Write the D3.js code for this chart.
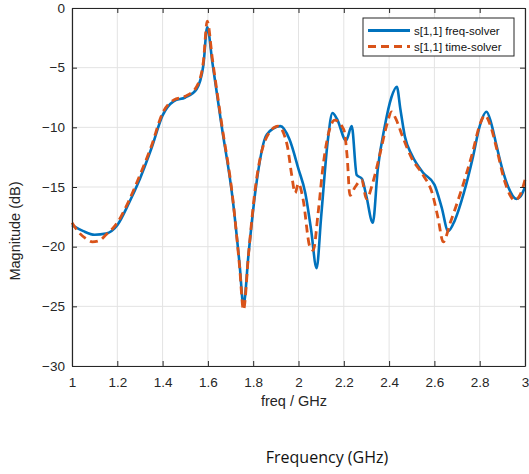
<!DOCTYPE html>
<html>
<head>
<meta charset="utf-8">
<style>
body { margin: 0; background: #fff; }
text { font-family: "Liberation Sans", Arial, sans-serif; }
</style>
</head>
<body>
<script src="https://cdn.jsdelivr.net/npm/d3@7/dist/d3.min.js"></script>
<script>

var freqF = [1.00,1.05,1.10,1.15,1.20,1.25,1.30,1.35,1.40,1.45,1.50,1.55,1.58,1.597,1.62,1.66,1.71,1.74,1.757,1.78,1.81,1.86,1.92,1.96,2.00,2.03,2.055,2.08,2.10,2.13,2.15,2.17,2.21,2.235,2.257,2.28,2.30,2.328,2.35,2.38,2.41,2.434,2.45,2.47,2.50,2.55,2.60,2.632,2.661,2.69,2.73,2.77,2.80,2.83,2.85,2.875,2.90,2.926,2.963,2.98,3.00];
var magF = [-18.2,-18.7,-19.0,-18.9,-18.2,-16.4,-14.3,-11.8,-9.0,-7.8,-7.5,-6.8,-4.8,-1.6,-4.6,-9.8,-16.1,-21.5,-24.9,-20.5,-15.3,-10.6,-9.9,-11.0,-13.5,-15.5,-18.5,-21.8,-17.5,-11.0,-8.8,-9.3,-11.1,-9.9,-14.0,-14.3,-15.8,-18.0,-13.5,-10.0,-7.5,-6.6,-8.5,-10.8,-12.3,-13.8,-14.8,-16.7,-18.7,-17.8,-15.5,-12.5,-9.9,-8.7,-9.6,-11.6,-13.5,-15.0,-16.0,-15.8,-15.0];

var freqT = [1.00,1.03,1.06,1.09,1.12,1.15,1.20,1.25,1.30,1.35,1.40,1.45,1.50,1.55,1.58,1.597,1.62,1.66,1.71,1.74,1.757,1.78,1.81,1.86,1.91,1.95,1.97,1.985,2.00,2.02,2.05,2.065,2.087,2.11,2.14,2.16,2.20,2.215,2.227,2.25,2.279,2.30,2.33,2.36,2.39,2.411,2.43,2.46,2.50,2.55,2.59,2.615,2.639,2.67,2.72,2.77,2.80,2.823,2.85,2.875,2.91,2.955,2.98,3.00];
var magT = [-18.0,-18.8,-19.3,-19.6,-19.5,-19.0,-18.0,-16.2,-14.0,-11.6,-8.8,-7.7,-7.4,-6.6,-4.5,-1.1,-4.3,-9.6,-16.0,-21.7,-25.3,-20.5,-15.0,-10.8,-9.9,-11.5,-14.0,-15.5,-14.7,-16.0,-20.0,-20.3,-17.1,-13.0,-10.0,-9.4,-10.2,-12.5,-15.7,-15.0,-14.4,-16.0,-14.5,-12.2,-9.8,-8.7,-9.3,-10.8,-12.6,-14.0,-15.5,-17.5,-19.6,-18.0,-15.2,-12.0,-9.8,-9.0,-10.0,-11.8,-14.5,-16.1,-15.6,-14.4];

var xTicks = [1,1.2,1.4,1.6,1.8,2,2.2,2.4,2.6,2.8,3];
var yTicks = [0,-5,-10,-15,-20,-25,-30];
var seriesNames = ["s[1,1] freq-solver", "s[1,1] time-solver"];

var width = 529, height = 474;
var pLeft = 72, pRight = 525, pTop = 8, pBottom = 366;

var svg = d3.select("body").append("svg")
    .attr("width", width)
    .attr("height", height);

var x = d3.scaleLinear().domain([1, 3]).range([pLeft, pRight]);
var y = d3.scaleLinear().domain([-30, 0]).range([pBottom, pTop]);

// grid
svg.append("g").selectAll("line").data(xTicks).enter().append("line")
    .attr("x1", d => x(d)).attr("x2", d => x(d))
    .attr("y1", pTop).attr("y2", pBottom)
    .attr("stroke", "#e3e3e3").attr("stroke-width", 1);
svg.append("g").selectAll("line").data(yTicks).enter().append("line")
    .attr("x1", pLeft).attr("x2", pRight)
    .attr("y1", d => y(d)).attr("y2", d => y(d))
    .attr("stroke", "#e3e3e3").attr("stroke-width", 1);

// curves
var line = d3.line().curve(d3.curveMonotoneX);
var blue = freqF.map((f, i) => [x(f), y(magF[i])]);
var orange = freqT.map((f, i) => [x(f), y(magT[i])]);

svg.append("path")
    .attr("d", line(blue))
    .attr("fill", "none")
    .attr("stroke", "#0072BD")
    .attr("stroke-width", 2.6);

svg.append("path")
    .attr("d", line(orange))
    .attr("fill", "none")
    .attr("stroke", "#D95319")
    .attr("stroke-width", 2.8)
    .attr("stroke-dasharray", "8,5");

// axes, box with inward ticks
var ax = d3.axisBottom(x).tickValues(xTicks).tickSizeInner(-5).tickSizeOuter(0)
    .tickPadding(11).tickFormat(d3.format("~g"));
var gx = svg.append("g").attr("transform", "translate(0," + pBottom + ")").call(ax);
var ay = d3.axisLeft(y).tickValues(yTicks).tickSizeInner(-5).tickSizeOuter(0)
    .tickPadding(7).tickFormat(d3.format("~g"));
var gy = svg.append("g").attr("transform", "translate(" + pLeft + ",0)").call(ay);
var gx2 = svg.append("g").attr("transform", "translate(0," + pTop + ")")
    .call(d3.axisTop(x).tickValues(xTicks).tickSizeInner(-5).tickSizeOuter(0).tickFormat(""));
var gy2 = svg.append("g").attr("transform", "translate(" + pRight + ",0)")
    .call(d3.axisRight(y).tickValues(yTicks).tickSizeInner(-5).tickSizeOuter(0).tickFormat(""));

[gx, gy, gx2, gy2].forEach(function(g) {
  g.select(".domain").attr("stroke", "#262626").attr("stroke-width", 1.2);
  g.selectAll(".tick line").attr("stroke", "#262626");
  g.selectAll(".tick text").attr("fill", "#262626").style("font-size", "13.5px")
    .style("font-family", "'Liberation Sans', Arial, sans-serif");
});

// axis labels
svg.append("text")
    .attr("x", 294).attr("y", 406)
    .attr("text-anchor", "middle")
    .attr("fill", "#262626")
    .style("font-size", "14.5px")
    .text("freq / GHz");

svg.append("text")
    .attr("transform", "translate(20,231) rotate(-90)")
    .attr("text-anchor", "middle")
    .attr("fill", "#262626")
    .style("font-size", "14.5px")
    .text("Magnitude (dB)");

svg.append("text")
    .attr("x", 327).attr("y", 463)
    .attr("text-anchor", "middle")
    .attr("fill", "#111")
    .style("font-family", "'Open Sans', Roboto, sans-serif")
    .style("font-size", "16px")
    .text("Frequency (GHz)");

// legend
var leg = svg.append("g").attr("transform", "translate(363,18)");
leg.append("rect")
    .attr("width", 151).attr("height", 38)
    .attr("fill", "#fff").attr("stroke", "#262626").attr("stroke-width", 1);
var legColors = ["#0072BD", "#D95319"];
var legDash = [null, "8,5"];
seriesNames.forEach(function(name, i) {
  var ly = 12.5 + i * 16;
  leg.append("line")
      .attr("x1", 5).attr("x2", 47).attr("y1", ly).attr("y2", ly)
      .attr("stroke", legColors[i]).attr("stroke-width", 2.8)
      .attr("stroke-dasharray", legDash[i]);
  leg.append("text")
      .attr("x", 51).attr("y", ly + 4)
      .attr("fill", "#111")
      .style("font-size", "11.5px")
      .text(name);
});

</script>
</body>
</html>
